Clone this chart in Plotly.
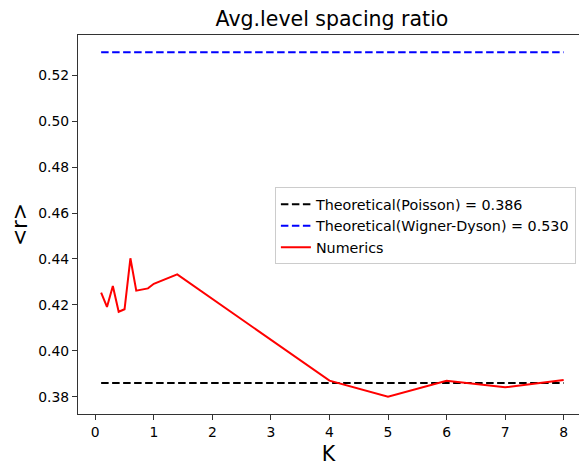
import plotly.graph_objects as go

K = [0.1, 0.2, 0.3, 0.4, 0.5, 0.6, 0.7, 0.9, 1.0, 1.4, 4, 5, 6, 7, 8]
r_numerics = [0.4253, 0.4191, 0.4282, 0.4170, 0.4181, 0.4403, 0.4262, 0.4272,
              0.4292, 0.4333, 0.3870, 0.3800, 0.3870, 0.3841, 0.3873]
poisson = 0.386
wigner_dyson = 0.530
x_ticks = [0, 1, 2, 3, 4, 5, 6, 7, 8]
y_ticks = [0.38, 0.40, 0.42, 0.44, 0.46, 0.48, 0.50, 0.52]

FONT = "DejaVu Sans"

fig = go.Figure()
fig.add_trace(go.Scatter(
    x=K, y=[poisson] * len(K), mode="lines",
    line=dict(color="black", width=2, dash="7.5px,3.5px"),
    name="Theoretical(Poisson) = 0.386"))
fig.add_trace(go.Scatter(
    x=K, y=[wigner_dyson] * len(K), mode="lines",
    line=dict(color="blue", width=2, dash="7.5px,3.5px"),
    name="Theoretical(Wigner-Dyson) = 0.530"))
fig.add_trace(go.Scatter(
    x=K, y=r_numerics, mode="lines",
    line=dict(color="red", width=2),
    name="Numerics"))

fig.update_layout(
    width=579, height=466,
    margin=dict(l=78, r=0, t=35, b=52),
    paper_bgcolor="white", plot_bgcolor="white",
    font=dict(family=FONT, color="black", size=14),
    title=dict(text="Avg.level spacing ratio", font=dict(size=20.5, family=FONT),
               x=332 / 579, xanchor="center", y=1 - 19 / 466, yanchor="middle",
               xref="container", yref="container"),
    showlegend=True,
    legend=dict(x=0.393, y=0.598, xanchor="left", yanchor="top",
                bgcolor="rgba(255,255,255,0.8)", bordercolor="#cccccc", borderwidth=1,
                font=dict(size=14.3, family=FONT), tracegroupgap=0, itemwidth=30),
)
fig.update_xaxes(
    range=[-0.295, 8.262], tickvals=x_ticks, ticktext=[str(t) for t in x_ticks],
    showgrid=False, zeroline=False, showline=True, linecolor="#333", linewidth=1,
    mirror=True, ticks="outside", ticklen=5, tickcolor="#333",
    tickfont=dict(size=13.9, family=FONT),
    title=dict(text="K", font=dict(size=20.5, family=FONT), standoff=8),
)
fig.update_yaxes(
    range=[0.3725, 0.5375], tickvals=y_ticks, ticktext=[f"{t:.2f}" for t in y_ticks],
    showgrid=False, zeroline=False, showline=True, linecolor="#333", linewidth=1,
    mirror=False, ticks="outside", ticklen=5, tickcolor="#333",
    tickfont=dict(size=13.9, family=FONT),
    title=dict(text="<r>", font=dict(size=20.5, family=FONT), standoff=5),
)

fig.write_html("out.html")
